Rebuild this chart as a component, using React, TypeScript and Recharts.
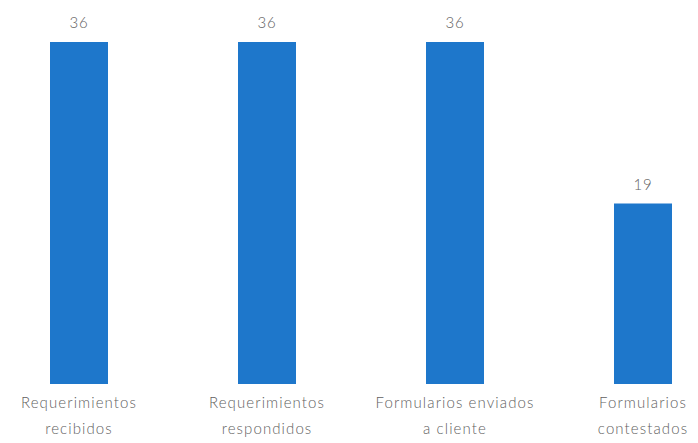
import React from "react";
import { BarChart, Bar, XAxis, YAxis, LabelList } from "recharts";

const categories = [
  "Requerimientos\nrecibidos",
  "Requerimientos\nrespondidos",
  "Formularios enviados\na cliente",
  "Formularios\ncontestados",
];
const values = [36, 36, 36, 19];

const data = categories.map((name, i) => ({ name, value: values[i] }));

const BLUE = "#1e77cb";
const GREY = "#5f5f5f";
const FONT = "Lato, 'Open Sans', sans-serif";

function CategoryTick({ x, y, payload }: { x?: number; y?: number; payload?: { value: string } }) {
  const lines = String(payload?.value ?? "").split("\n");
  return (
    <text
      x={x}
      y={y}
      textAnchor="middle"
      fill={GREY}
      fontSize={15}
      fontWeight={300}
      fontFamily={FONT}
      letterSpacing={1.1}
    >
      {lines.map((line, i) => (
        <tspan key={i} x={x} dy={i === 0 ? 16 : 26}>
          {line}
        </tspan>
      ))}
    </text>
  );
}

export default function App() {
  return (
    <div
      style={{
        position: "absolute",
        left: 0,
        top: 0,
        width: 698,
        height: 443,
        overflow: "hidden",
        background: "#fff",
      }}
    >
      <div style={{ marginLeft: -15 }}>
        <BarChart
          width={752}
          height={443}
          data={data}
          margin={{ top: 42, right: 0, bottom: 0, left: 0 }}
        >
          <XAxis
            dataKey="name"
            axisLine={false}
            tickLine={false}
            height={59}
            interval={0}
            tick={<CategoryTick />}
          />
          <YAxis hide domain={[0, 36]} />
          <Bar dataKey="value" fill={BLUE} barSize={58} isAnimationActive={false}>
            <LabelList
              dataKey="value"
              position="top"
              offset={14}
              fill={GREY}
              fontSize={15}
              fontWeight={300}
              fontFamily={FONT}
              letterSpacing={0.8}
            />
          </Bar>
        </BarChart>
      </div>
    </div>
  );
}
